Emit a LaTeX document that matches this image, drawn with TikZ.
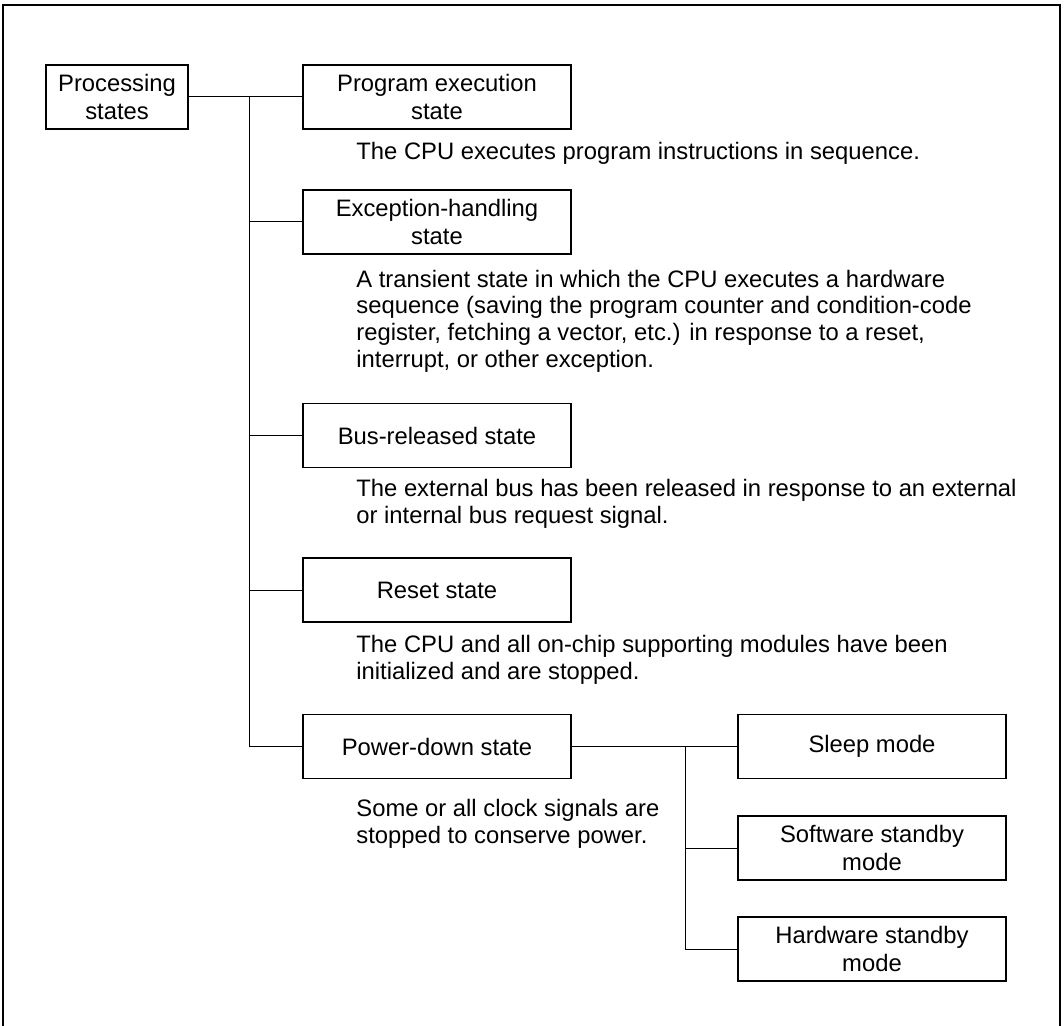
\documentclass[tikz,border=0pt]{standalone}
\usepackage{fontspec}
\setmainfont{Liberation Sans}
\newcommand\myfs{\fontsize{11.9}{13.4}\selectfont}
\newcommand\myboxfs{\fontsize{11.9}{13.8}\selectfont}
\begin{document}
\begin{tikzpicture}[x=0.5pt,y=-0.5pt,
  box/.style={draw, line width=0.9pt, minimum width=134pt, minimum height=32pt, inner sep=0pt, align=center, font=\myboxfs},
  rootbox/.style={box, minimum width=71pt},
  desc/.style={anchor=north west, inner sep=0pt, align=left, font=\myfs},
  conn/.style={line width=0.5pt}]
\useasboundingbox (0,0) rectangle (1064,1026);
\draw[line width=0.8pt] (3,1026) -- (3,5) -- (1060,5) -- (1060,1026);

\node[rootbox] (ps) at (117,97) {Processing\\states};
\node[box] (pe) at (437,97) {Program execution\\state};
\node[box] (eh) at (437,222) {Exception-handling\\state};
\node[box] (br) at (437,435.5) {Bus-released state};
\node[box] (rs) at (437,590) {Reset state};
\node[box] (pd) at (437,746.5) {Power-down state};
\node[box] (sl) at (872,746.5) {Sleep mode};
\node[box] (ss) at (872,848) {Software standby\\mode};
\node[box] (hs) at (872,949) {Hardware standby\\mode};

\node[desc] (dpe) at (356,140.3) {\strut The CPU executes program instructions in sequence.};
\node[desc] (deh) at (356,268) {\strut A transient state in which the CPU executes a hardware\\sequence (saving the program counter and condition-code\\register, fetching a vector, etc.) in response to a reset,\\interrupt, or other exception.};
\node[desc] (dbr) at (356,477.3) {\strut The external bus has been released in response to an external\\or internal bus request signal.};
\node[desc] (drs) at (356,633.3) {\strut The CPU and all on-chip supporting modules have been\\initialized and are stopped.};
\node[desc] (dpd) at (356,797.3) {\strut Some or all clock signals are\\stopped to conserve power.};

\coordinate (t0) at (249,97);
\coordinate (u0) at (685,746.5);
\draw[conn] (ps.east) -- (pe.west);
\draw[conn] (t0) |- (pd.west);
\draw[conn] (t0 |- eh.west) -- (eh.west);
\draw[conn] (t0 |- br.west) -- (br.west);
\draw[conn] (t0 |- rs.west) -- (rs.west);
\draw[conn] (pd.east) -- (sl.west);
\draw[conn] (u0) |- (hs.west);
\draw[conn] (u0 |- ss.west) -- (ss.west);
\end{tikzpicture}
\end{document}
